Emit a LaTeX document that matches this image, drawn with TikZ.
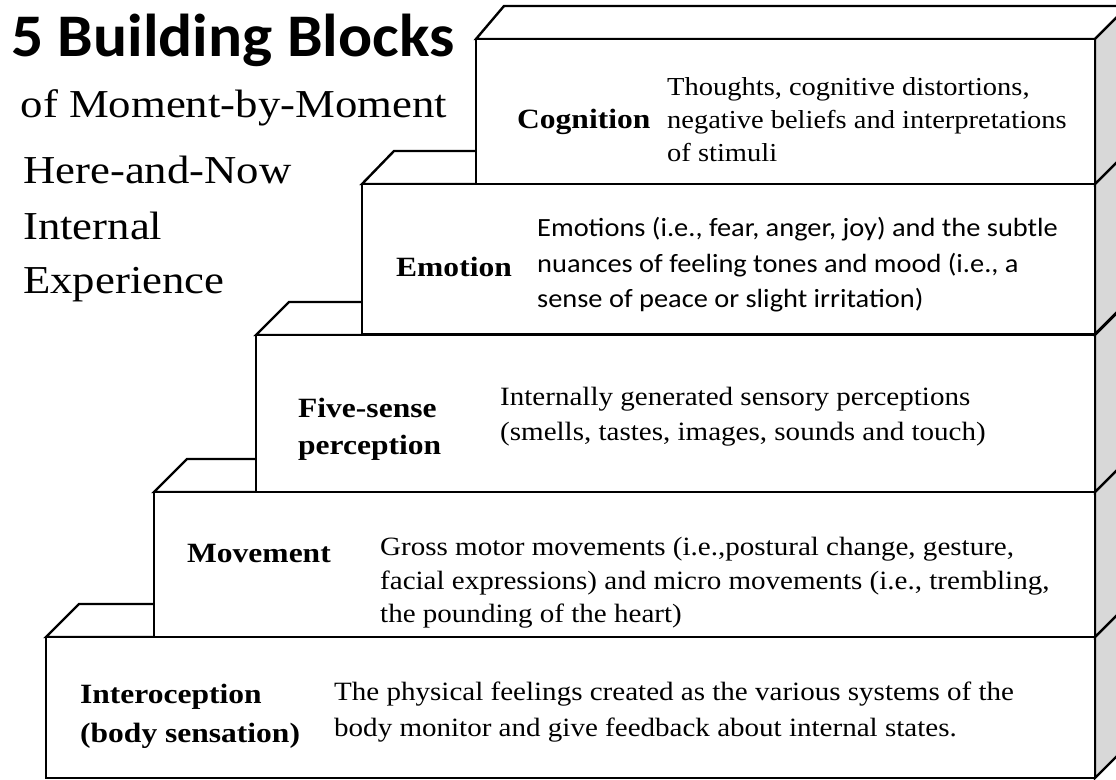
\documentclass[tikz,border=0pt]{standalone}
\usepackage{fontspec}
\setmainfont{Liberation Serif}[FakeStretch=1.13]
\newfontfamily\descfont{Liberation Serif}[FakeStretch=1.10]
\newfontfamily\calfont{Carlito}[FakeStretch=1.08]
\newfontfamily\titlefont{Carlito}[FakeStretch=1.05]
\definecolor{sidegray}{HTML}{D8D8D8}
\newcommand\cubeblock[4]{% left, top, bottom, top offset
  \filldraw[face] (#1,#2) -- (#1+#4,#2-33) -- (1128,#2-33) -- (1095,#2) -- cycle;
  \filldraw[sideface] (1095,#2) -- (1128,#2-33) -- (1128,#3-33) -- (1095,#3) -- cycle;
  \filldraw[face] (#1,#2) rectangle (1095,#3);
}
\tikzset{
  face/.style={draw=black, fill=white, line width=2.4pt, line join=miter},
  sideface/.style={draw=black, fill=sidegray, line width=2.4pt, line join=miter},
  lbl/.style={inner sep=0pt, anchor=west, align=left, font=\fontsize{27.9}{37}\selectfont\bfseries},
  desc/.style={inner sep=0pt, anchor=west, align=left, font=\descfont\fontsize{26.4}{33}\selectfont},
  descsans/.style={inner sep=0pt, anchor=west, align=left, font=\calfont\fontsize{26.3}{35.5}\selectfont},
  big/.style={inner sep=0pt, anchor=base west, font=\fontsize{39.6}{48}\selectfont},
}
\begin{document}
\begin{tikzpicture}[x=1pt, y=-1pt]
\useasboundingbox (0,0) rectangle (1116,779);
\clip (0,0) rectangle (1116,779);
\fill[white] (0,0) rectangle (1116,779);

% blocks, from the bottom up
\cubeblock{46}{637}{778}{33}
\cubeblock{154}{492}{637}{33}
\cubeblock{256}{335}{492}{33}
\cubeblock{362}{184}{334}{32}
\cubeblock{476}{39}{184}{28}

% title texts
\node[inner sep=0pt, anchor=base west, font=\titlefont\fontsize{60.5}{72}\selectfont\bfseries] (title) at (11,56) {5 Building Blocks};
\node[big] (subtitle) at (20.5,117) {of Moment-by-Moment};
\node[big] (here) at (23,183) {Here-and-Now};
\node[big] (internal) at (23,239) {Internal};
\node[big] (experience) at (23,293) {Experience};

% cognition
\node[lbl] (cogl) at (517,122) {Cognition};
\node[desc, font=\descfont\fontsize{25.9}{33}\selectfont] (cogd) at (667,120) {Thoughts, cognitive distortions,\\negative beliefs and interpretations\\of stimuli};
% emotion
\node[lbl] (emol) at (396,267) {Emotion};
\node[descsans] (emod) at (537,265) {Emotions (i.e., fear, anger, joy) and the subtle\\nuances of feeling tones and mood (i.e., a\\sense of peace or slight irritation)};
% five-sense
\node[lbl, font=\fontsize{27.9}{37}\selectfont\bfseries] (fivel) at (298,429) {Five-sense\\perception};
\node[desc, font=\descfont\fontsize{26.4}{35}\selectfont] (fived) at (500,417) {Internally generated sensory perceptions\\(smells, tastes, images, sounds and touch)};
% movement
\node[lbl] (movl) at (187,553) {Movement};
\node[desc, font=\descfont\fontsize{26.4}{33.5}\selectfont] (movd) at (380,583) {Gross motor movements (i.e.,postural change, gesture,\\facial expressions) and micro movements (i.e., trembling,\\the pounding of the heart)};
% interoception
\node[lbl, font=\fontsize{27.9}{39}\selectfont\bfseries] (intl) at (80,716) {Interoception\\(body sensation)};
\node[desc, font=\descfont\fontsize{26.4}{36}\selectfont] (intd) at (334,712) {The physical feelings created as the various systems of the\\body monitor and give feedback about internal states.};
\end{tikzpicture}
\end{document}
